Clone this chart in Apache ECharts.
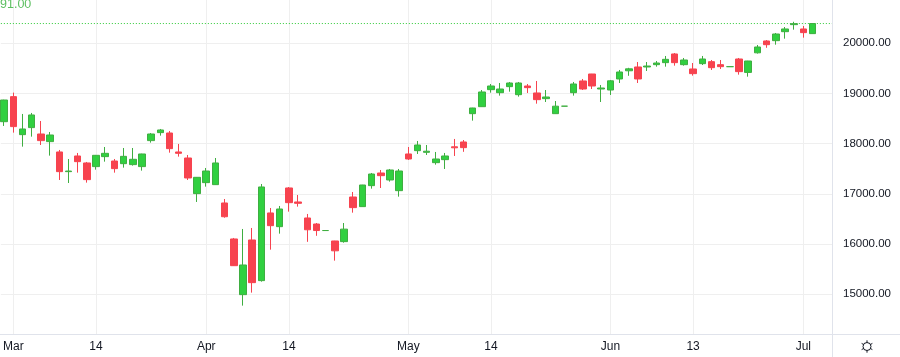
<!DOCTYPE html>
<html><head><meta charset="utf-8">
<script src="https://cdn.jsdelivr.net/npm/echarts@6/dist/echarts.min.js"></script>
<style>html,body{margin:0;padding:0;background:#fff}#c{width:900px;height:357px}</style>
</head><body><div id="c"></div>
<script>
// OHLC values (Feb 28 .. Jul 2, every weekday)
const openV = [18438,18937,18180,18320,18193,18041,17835,17443,17755,17616,17543,17742,17655,17602,17583,17543,18061,18220,18213,17835,17715,17005,
  17224,17184,16819,16102,14993,16082,15272,16620,16347,17118,16839,16520,16400,16270,16062,16049,16938,16746,17164,17416,17277,17064,
  17795,17861,17828,17622,17682,17938,18034,18598,18737,19076,19016,19136,18976,19149,19010,18897,18598,18747,19016,19249,19388,19089,
  19069,19289,19452,19528,19528,19574,19614,19787,19574,19488,19594,19634,19574,19534,19687,19420,19810,20046,20052,20231,20371,
  20285,20192];
const closeV = [18870,18340,18293,18572,18061,18173,17443,17455,17642,17284,17768,17808,17503,17748,17689,17795,18193,18273,17901,17808,17317,17330,
  17456,17616,16545,15570,15584,15232,17138,16367,16699,16825,16812,16285,16270,16270,15866,16298,16726,17177,17396,17363,17476,17456,
  17695,17974,17850,17695,17755,17918,17921,18711,19030,19149,19089,19209,19209,19116,18877,18930,18747,18747,19189,19089,19149,19109,
  19252,19428,19491,19289,19547,19607,19680,19614,19667,19395,19687,19514,19534,19534,19435,19647,19926,19972,20185,20285,20391,
  20212,20393];
const lowV = [18353,18220,17941,18140,17974,17762,17277,17217,17423,17224,17483,17642,17423,17523,17563,17463,18021,18160,17821,17742,17277,16839,
  17144,17180,16525,15565,14774,15033,15252,15889,16208,16646,16746,16045,16165,16270,15670,16028,16626,16745,17104,17117,17244,16945,
  17675,17795,17775,17582,17496,17755,17838,18459,18735,19016,18957,19036,18937,19010,18797,18830,18596,18747,18957,19069,19089,18830,
  18970,19209,19352,19209,19448,19534,19534,19554,19554,19355,19567,19468,19488,19534,19375,19335,19795,19910,19972,20092,20271,
  20112,20190];
const highV = [18875,19017,18592,18612,18452,18233,17875,17695,17815,17636,17775,17934,17695,17914,17914,17800,18213,18293,18253,17994,17775,17335,
  17516,17715,16898,16122,16301,16321,17197,16719,16759,17137,16978,16600,16420,16270,16065,16420,17038,17180,17416,17476,17496,17496,
  17934,18054,17974,17835,17815,18094,18073,18715,19069,19189,19209,19229,19229,19189,19249,19069,18850,18747,19229,19289,19390,19169,
  19269,19468,19511,19627,19627,19647,19747,19806,19707,19607,19747,19667,19667,19534,19707,19650,19966,20065,20205,20324,20428,
  20345,20395];

const xTickDates = ['2025-03-03','2025-03-14','2025-04-01','2025-04-14','2025-05-01','2025-05-14','2025-06-02','2025-06-13','2025-07-01'];
const xTickLabels = ['Mar','14','Apr','14','May','14','Jun','13','Jul'];
const yTicks = [15000,16000,17000,18000,19000,20000];
const priceTag = '91.00';

// weekday calendar (categories)
const dates = [];
for (let d = new Date(Date.UTC(2025,1,28)); d <= new Date(Date.UTC(2025,6,2)); d.setUTCDate(d.getUTCDate()+1)) {
  const w = d.getUTCDay(); if (w > 0 && w < 6) dates.push(d.toISOString().slice(0,10));
}
const xTickIdx = xTickDates.map(s => dates.indexOf(s));
const labelMap = {}; xTickIdx.forEach((i,k) => labelMap[i] = xTickLabels[k]);
const candles = dates.map((s,i) => [i, openV[i], closeV[i], lowV[i], highV[i]]);
const lastClose = closeV[closeV.length-1];
const X_MIN = -0.359, X_MAX = 90.23;

const UP = '#30d040', UPB = '#3fae41', DN = '#f7434f', PL = '#2cc934';
const txt = '#131722', grid = '#efefef', line = '#e0e3eb';
const chart = echarts.init(document.getElementById('c'), null, {renderer:'canvas'});
chart.setOption({
  animation:false,
  backgroundColor:'#ffffff',
  grid:{left:0, right:67, top:0, bottom:23, containLabel:false},
  xAxis:{type:'value', min:X_MIN, max:X_MAX,
    axisLine:{show:false}, axisTick:{show:false, customValues:xTickIdx},
    axisLabel:{customValues:xTickIdx, formatter:v => labelMap[v] || '', color:txt, fontSize:12, fontFamily:'Liberation Sans', margin:7},
    splitLine:{show:true, lineStyle:{color:grid, width:1}}},
  yAxis:{type:'value', position:'right', min:14209, max:20862,
    axisLine:{show:false}, axisTick:{show:false, customValues:yTicks},
    axisLabel:{customValues:yTicks, formatter:v => v.toFixed(2), color:txt, fontSize:11.5, fontFamily:'Liberation Sans', margin:10},
    splitLine:{show:true, lineStyle:{color:grid, width:1}}},
  series:[
    {type:'candlestick', data:candles, encode:{x:0, y:[1,2,3,4]}, barWidth:7, z:3,
      itemStyle:{color:UP, borderColor:UPB, color0:DN, borderColor0:DN, borderColorDoji:UPB, borderWidth:1}},
    {type:'line', name:'last', data:[[X_MIN, lastClose],[X_MAX, lastClose]], symbol:'none', silent:true, z:2,
      lineStyle:{color:PL, type:[1,2], width:1}, itemStyle:{color:PL}}
  ],
  graphic:[
    {type:'line', shape:{x1:0,y1:334.5,x2:900,y2:334.5}, style:{stroke:line, lineWidth:1}, z:10},
    {type:'line', shape:{x1:832.5,y1:0,x2:832.5,y2:357}, style:{stroke:line, lineWidth:1}, z:10},
    {type:'text', x:0, y:4.5, style:{text:priceTag, fill:'#5cbf60', fontSize:12.5, fontFamily:'Liberation Sans', verticalAlign:'middle', align:'left'}, z:10},
    {type:'group', x:867, y:346.5, z:10, children:[
      {type:'circle', shape:{cx:0,cy:0,r:4}, style:{fill:'none', stroke:txt, lineWidth:1}},
      ...[0,1,2,3,4,5].map(k => { const a = k*Math.PI/3 + Math.PI/6; return {type:'line', shape:{x1:4*Math.cos(a),y1:4*Math.sin(a),x2:6.2*Math.cos(a),y2:6.2*Math.sin(a)}, style:{stroke:txt, lineWidth:1}}; })
    ]}
  ]
});
</script></body></html>
